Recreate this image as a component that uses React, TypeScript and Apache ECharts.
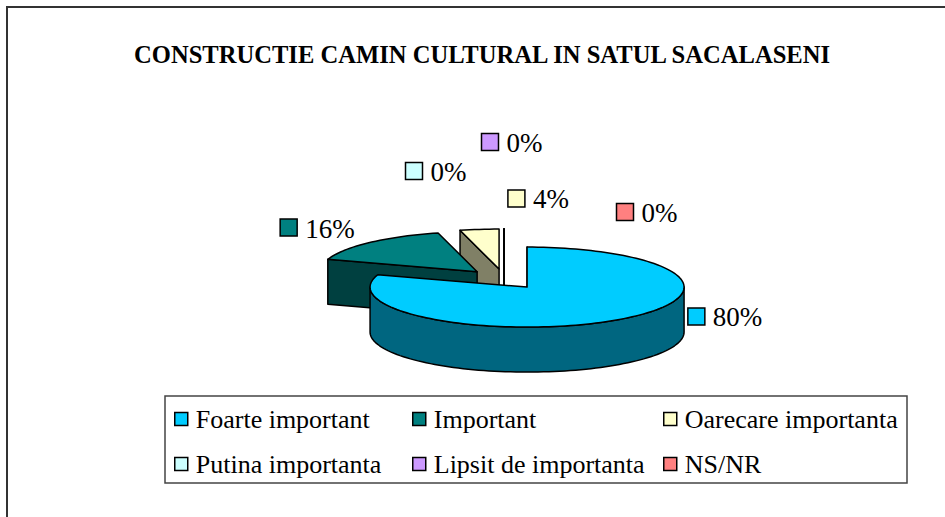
import React, { useEffect, useRef } from 'react';
import * as echarts from 'echarts';

// ---------- data ----------
const TITLE = 'CONSTRUCTIE CAMIN CULTURAL IN SATUL SACALASENI';
const categories = [
  'Foarte important',
  'Important',
  'Oarecare importanta',
  'Putina importanta',
  'Lipsit de importanta',
  'NS/NR',
];
const values = [80, 16, 4, 0, 0, 0];

// ---------- styles / layout ----------
const colors = ['#00CCFF', '#008080', '#FFFFCC', '#CCFFFF', '#CC99FF', '#FF8080'];
const legendColumns = [[0, 3], [1, 4], [2, 5]];
const legendLeft = [174, 412, 663];
const CX = 504;
const CY = 279;
const RX = 157;
const RY = 40;
const DEPTH = 45;
const EXPLODE = 0.25;
// label square centre offsets from the slice's outer mid-arc point
const LABEL_NUDGE = [[77, -3], [-81, -15], [37, -31], [-90, -58], [-14, -87], [121, -17]];
const FONT = "'Liberation Serif', 'Times New Roman', Times, serif";

const total = values.reduce((a, b) => a + b, 0);
const startAngles = values.map((_, i) => (values.slice(0, i).reduce((a, b) => a + b, 0) / total) * 360);

const rad = (d: number) => (d * Math.PI) / 180;
function shade(hex: string, f: number) {
  const n = parseInt(hex.slice(1), 16);
  const r = Math.round(((n >> 16) & 255) * f);
  const g = Math.round(((n >> 8) & 255) * f);
  const b = Math.round((n & 255) * f);
  return `rgb(${r},${g},${b})`;
}
function pt(ax: number, ay: number, deg: number, k = 1, dy = 0): number[] {
  return [ax + RX * k * Math.sin(rad(deg)), ay - RY * k * Math.cos(rad(deg)) + dy];
}
function arc(ax: number, ay: number, from: number, to: number, dy = 0) {
  const pts: number[][] = [];
  const n = Math.max(1, Math.ceil(Math.abs(to - from) / 2));
  for (let s = 0; s <= n; s++) pts.push(pt(ax, ay, from + ((to - from) * s) / n, 1, dy));
  return pts;
}
function apexY(i: number) {
  const span = (values[i] / total) * 360;
  const m = startAngles[i] + span / 2;
  return pt(CX, CY, m, EXPLODE)[1];
}
// draw order: back (smaller apex y) first
const order = values.map((_, i) => i).sort((a, b) => apexY(a) - apexY(b));

function makeRenderItem(i: number) {
  return (_params: any, api: any) => {
    const v = api.value(0) as number;
    const span = (v / total) * 360;
    const a0 = startAngles[i];
    const a1 = a0 + span;
    const m = a0 + span / 2;
    const [ax, ay] = pt(CX, CY, m, EXPLODE);
    const base = order.indexOf(i) * 10;
    const top = colors[i];
    const side = shade(colors[i], 0.5);
    const stroke = { stroke: '#000', lineWidth: 1.5, lineJoin: 'round' };
    const children: any[] = [];
    const radial = (ang: number) => {
      const e = pt(ax, ay, ang);
      return [[ax, ay], e, [e[0], e[1] + DEPTH], [ax, ay + DEPTH]];
    };
    if (Math.sin(rad(a0)) < 1e-9) {
      children.push({ type: 'polygon', shape: { points: radial(a0) }, style: { fill: side, ...stroke }, z2: base + 1 });
    }
    if (Math.sin(rad(a1)) > 1e-9 && span > 0) {
      children.push({ type: 'polygon', shape: { points: radial(a1) }, style: { fill: side, ...stroke }, z2: base + 1 });
    }
    const s = Math.max(a0, 90);
    const e = Math.min(a1, 270);
    if (e > s) {
      const upper = arc(ax, ay, s, e);
      const lower = arc(ax, ay, e, s, DEPTH);
      children.push({ type: 'polygon', shape: { points: upper.concat(lower) }, style: { fill: side, ...stroke }, z2: base + 2 });
    }
    const topPts = [[ax, ay]].concat(arc(ax, ay, a0, a1));
    children.push({ type: 'polygon', shape: { points: topPts }, style: { fill: top, ...stroke }, z2: base + 3 });
    const P = pt(ax, ay, m);
    const sq = 17;
    const cx = P[0] + LABEL_NUDGE[i][0];
    const cy = P[1] + LABEL_NUDGE[i][1];
    children.push({
      type: 'rect',
      shape: { x: cx - sq / 2, y: cy - sq / 2, width: sq, height: sq },
      style: { fill: top, stroke: '#000', lineWidth: 1.5 },
      z2: 1000,
    });
    children.push({
      type: 'text',
      x: cx + sq / 2 + 8,
      y: cy + 1,
      style: {
        text: `${Math.round((v / total) * 100)}%`,
        fontFamily: FONT,
        fontSize: 27,
        fill: '#000',
        verticalAlign: 'middle',
        textAlign: 'left',
      },
      z2: 1001,
    });
    return { type: 'group', children };
  };
}

export default function App() {
  const ref = useRef<HTMLDivElement>(null);
  useEffect(() => {
    if (!ref.current) return;
    const chart = echarts.init(ref.current, undefined, { renderer: 'svg' });
    chart.setOption({
      animation: false,
      backgroundColor: '#fff',
      legend: legendColumns.map((col, c) => ({
        orient: 'vertical',
        left: legendLeft[c],
        top: 406,
        padding: 0,
        itemWidth: 13,
        itemHeight: 13,
        itemGap: 19,
        icon: 'rect',
        selectedMode: false,
        data: col.map((k) => categories[k]),
        textStyle: { fontFamily: FONT, fontSize: 26, color: '#000', padding: [0, 0, 0, 3] },
        itemStyle: { borderColor: '#000', borderWidth: 1.5 },
      })),
      graphic: [
        {
          type: 'rect',
          shape: { x: 7, y: 7, width: 1200, height: 1200 },
          style: { fill: 'none', stroke: '#333', lineWidth: 2 },
          silent: true,
        },
        {
          type: 'text',
          x: 134,
          y: 54,
          scaleX: 0.946,
          style: {
            text: TITLE,
            fontFamily: FONT,
            fontWeight: 'bold',
            fontSize: 26,
            fill: '#000',
            textAlign: 'left',
            verticalAlign: 'middle',
          },
          silent: true,
        },
        {
          type: 'rect',
          shape: { x: 165, y: 396, width: 742, height: 87 },
          style: { fill: 'none', stroke: '#444', lineWidth: 1.5 },
          silent: true,
        },
      ],
      series: categories.map((name, i) => ({
        type: 'custom',
        name,
        coordinateSystem: 'none',
        itemStyle: { color: colors[i] },
        renderItem: makeRenderItem(i),
        data: [values[i]],
        silent: true,
      })),
    });
    return () => chart.dispose();
  }, []);
  return <div ref={ref} style={{ position: 'absolute', left: 0, top: 0, width: 945, height: 517 }} />;
}
